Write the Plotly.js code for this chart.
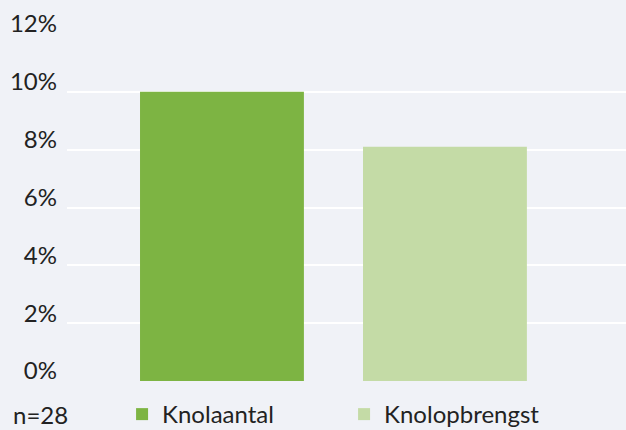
<!DOCTYPE html>
<html>
<head>
<meta charset="utf-8">
<script src="https://cdn.plot.ly/plotly-3.0.1.min.js"></script>
<style>html,body{margin:0;padding:0;background:#f0f2f7;}#chart{width:626px;height:430px;}</style>
</head>
<body>
<div id="chart"></div>
<script>
const categories = ["Knolaantal", "Knolopbrengst"];
const values = [10.0, 8.1];
const colors = ["#7db443", "#c4dba6"];
const yTicks = [0, 2, 4, 6, 8, 10, 12];
const yTickLabels = ["0%", "2%", "4%", "6%", "8%", "10%", "12%"];
const note = "n=28";

const traces = categories.map((c, i) => ({
  type: "bar",
  name: c,
  x: [c],
  y: [values[i]],
  marker: {color: colors[i]},
  width: 0.735,
  hoverinfo: "skip"
}));

const layout = {
  width: 626, height: 430,
  margin: {l: 67, r: 0, t: 34, b: 49, autoexpand: false},
  paper_bgcolor: "#f0f2f7",
  plot_bgcolor: "#f0f2f7",
  font: {family: "Lato, 'Open Sans', sans-serif", size: 24, color: "#222222"},
  barmode: "overlay",
  showlegend: true,
  legend: {orientation: "h", xref: "container", yref: "container", x: 0.195, xanchor: "left",
           y: 0.036, yanchor: "middle",
           entrywidth: 177, entrywidthmode: "pixels", font: {size: 24}, bgcolor: "rgba(0,0,0,0)"},
  xaxis: {type: "category", categoryorder: "array", categoryarray: categories,
          range: [-0.695, 1.812], showticklabels: false, showgrid: false, zeroline: false, fixedrange: true},
  yaxis: {range: [0, 12], tickvals: yTicks, ticktext: yTickLabels, showgrid: true,
          gridcolor: "#ffffff", gridwidth: 2, zeroline: false, ticks: "", ticklabelstandoff: 9,
          ticklabelshift: -10, fixedrange: true},
  annotations: [{text: note, xref: "paper", yref: "paper", x: -0.1, xanchor: "left",
                 y: -0.097, yanchor: "middle", showarrow: false, font: {size: 24}}]
};

Plotly.newPlot("chart", traces, layout, {displayModeBar: false, staticPlot: true});
</script>
</body>
</html>
